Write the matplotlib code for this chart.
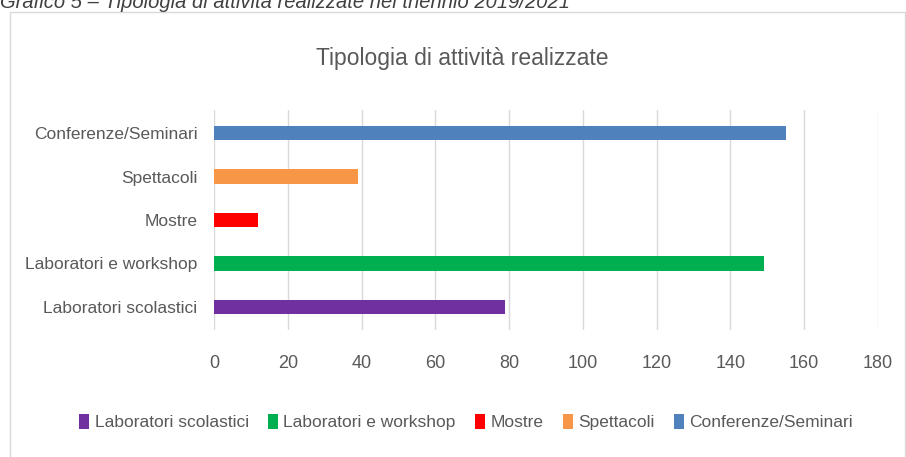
import matplotlib.pyplot as plt
from matplotlib.patches import Patch

# dati
categorie = ['Laboratori scolastici', 'Laboratori e workshop', 'Mostre',
             'Spettacoli', 'Conferenze/Seminari']
valori = [79, 149, 12, 39, 155]
colori = ['#7030A0', '#00B050', '#FF0000', '#F79646', '#4F81BD']
tick_x = [0, 20, 40, 60, 80, 100, 120, 140, 160, 180]

plt.rcParams['font.family'] = ['Liberation Sans', 'DejaVu Sans']
grigio = '#595959'

fig = plt.figure(figsize=(9.06, 4.57), dpi=100)

# riquadro del grafico
fig.add_artist(plt.Rectangle((10 / 906, -0.05), 895 / 906, 1 - 12 / 457 + 0.05,
                             transform=fig.transFigure, fill=False,
                             edgecolor='#d9d9d9', linewidth=1))

# didascalia tagliata in alto
fig.text(0.0, 1 - 2 / 457, 'Grafico 5 – Tipologia di attività realizzate nel triennio 2019/2021',
         ha='left', va='center', fontsize=14.5, style='italic', color='#404040')

ax = fig.add_axes([214 / 906, 1 - 330 / 457, 664 / 906, 220 / 457])
pos = list(range(len(categorie)))
ax.barh(pos, valori, height=0.33, color=colori, zorder=3)
ax.set_xlim(0, 180)
ax.set_ylim(-0.53, 4.53)
ax.set_xticks(tick_x)
ax.set_yticks(pos)
ax.set_yticklabels(categorie)
ax.grid(axis='x', color='#d9d9d9', linewidth=1, zorder=0)
for s in ax.spines.values():
    s.set_visible(False)
ax.tick_params(axis='both', length=0, labelsize=12.5, colors=grigio)
ax.tick_params(axis='x', pad=18, labelsize=13)
ax.tick_params(axis='y', pad=12)

fig.text(462 / 906, 1 - 58 / 457, 'Tipologia di attività realizzate',
         ha='center', va='center', fontsize=16.5, color=grigio)

handles = [Patch(facecolor=c, label=l) for c, l in zip(colori, categorie)]
fig.legend(handles=handles, loc='center', bbox_to_anchor=(466 / 906, 1 - 422 / 457),
           ncol=5, frameon=False, fontsize=12.5, handlelength=0.6, handleheight=1.0,
           handletextpad=0.3, columnspacing=1.1, labelcolor=grigio)

fig.savefig('out.png', dpi=100)
